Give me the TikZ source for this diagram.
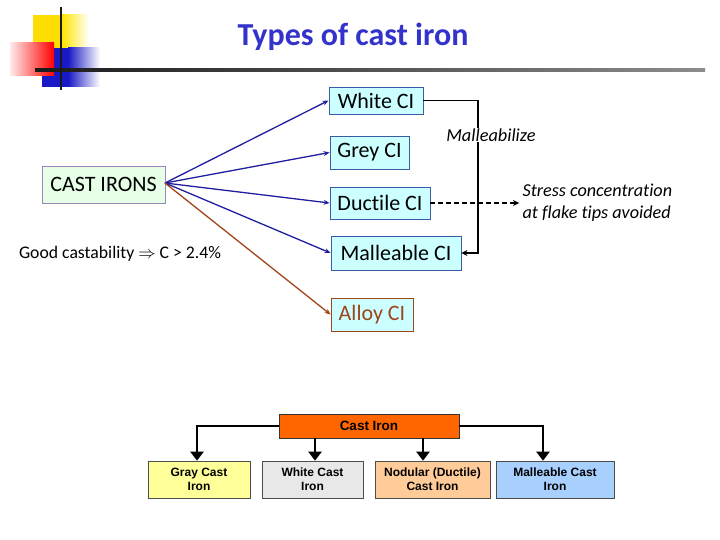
\documentclass[tikz,border=0pt]{standalone}
\usepackage{fontspec}
\setmainfont{Carlito}[Ligatures=NoCommon]
\newfontfamily\arialf{Liberation Sans}
\usetikzlibrary{arrows.meta}
\definecolor{titleblue}{HTML}{3333CC}
\definecolor{boxblue}{HTML}{3A5BA8}
\definecolor{cifill}{HTML}{CCFFFF}
\definecolor{arrblue}{HTML}{1F1FA0}
\definecolor{brownc}{HTML}{A0441A}
\definecolor{greenfill}{HTML}{E6FFE6}
\definecolor{purpleb}{HTML}{9A84B8}
\definecolor{orangec}{HTML}{FF6600}
\definecolor{grayfill}{HTML}{FFFF99}
\definecolor{whitefill}{HTML}{E8E8E8}
\definecolor{nodfill}{HTML}{FFCC99}
\definecolor{malfill}{HTML}{A8D0FF}
\tikzset{
  cibox/.style={draw=boxblue, fill=cifill, line width=0.9pt, inner sep=0pt, font=\fontsize{22}{24}\selectfont},
  blarrow/.style={draw=arrblue, line width=1.3pt, -{Stealth[length=6pt,width=5pt]}},
  botbox/.style={draw=black!70, line width=0.6pt, minimum height=37pt, inner sep=0pt, align=center, font=\arialf\bfseries\fontsize{12}{14}\selectfont},
  botarrow/.style={line width=2.6pt, -{Triangle[length=9pt,width=13pt]}},
}
\begin{document}
\begin{tikzpicture}[x=1pt,y=-1pt]
\useasboundingbox (0,0) rectangle (720,540);
% decoration
\fill[yellow!80!orange] (33,15) rectangle (62,48);
\shade[left color=yellow!80!orange, right color=white] (62,15) rectangle (89,48);
\fill[blue!75!black!90] (42,48) rectangle (68,87);
\shade[left color=blue!75!black!90, right color=white] (68,48) rectangle (100,87);
\shade[left color=red!8, right color=red] (10,43) rectangle (54,76);
\shade[left color=black!90, right color=black!45] (35,68.5) rectangle (705,71.5);
\draw[line width=2.6pt, black!90] (61,7) -- (61,90);
% title
\node[text=titleblue, font=\bfseries\fontsize{32}{34}\selectfont] (title) at (353,37) {Types of cast iron};
% CI nodes
\node[cibox, minimum width=94pt, minimum height=27pt] (white) at (376,100.5) {White CI};
\node[cibox, minimum width=79pt, minimum height=33pt] (grey) at (369.5,152.5) {Grey CI};
\node[cibox, minimum width=100pt, minimum height=32pt] (ductile) at (380,203) {Ductile CI};
\node[cibox, minimum width=130pt, minimum height=34pt] (malleable) at (396,253) {Malleable CI};
\node[cibox, draw=brownc, text=brownc, minimum width=82pt, minimum height=33pt] (alloy) at (372,314.5) {Alloy CI};
\node[draw=purpleb, fill=greenfill, line width=0.9pt, inner sep=0pt, minimum width=123pt, minimum height=37pt, font=\fontsize{22}{24}\selectfont] (castirons) at (103.5,184.5) {CAST IRONS};
\node[font=\fontsize{17.7}{20}\selectfont] (good) at (120,254) {Good castability $\Rightarrow$ C > 2.4\%};
\coordinate (src) at (165,183);
\draw[blarrow] (src) -- (white.west);
\draw[blarrow] (src) -- (grey.west);
\draw[blarrow] (src) -- (ductile.west);
\draw[blarrow] (src) -- (malleable.west);
\draw[draw=brownc, line width=1.3pt, -{Stealth[length=6pt,width=5pt]}] (src) -- (alloy.west);
% malleabilize
\draw[line width=1.4pt, -{Stealth[length=6pt,width=6pt]}] (white.east) -| (478,190) |- (malleable.east);
\node[font=\itshape\fontsize{18.3}{20}\selectfont, fill=white, inner sep=1pt] (mall) at (491,135) {Malleabilize};
\node[font=\itshape\fontsize{18.2}{22}\selectfont, align=left, anchor=west] (stress) at (519,203) {Stress concentration\\at flake tips avoided};
\draw[line width=1.2pt, dash pattern=on 5pt off 3pt, -{Stealth[length=6pt,width=6pt]}] (ductile.east) -- (stress.west);
% bottom chart
\node[draw=black!80, fill=orangec, line width=0.6pt, minimum width=180pt, minimum height=24pt, inner sep=0pt, font=\arialf\bfseries\fontsize{13.5}{15}\selectfont] (cast) at (369,426) {Cast Iron};
\node[botbox, fill=grayfill, minimum width=102pt] (gray) at (199,479.5) {Gray Cast\\Iron};
\node[botbox, fill=whitefill, minimum width=101pt] (whitec) at (312.5,479.5) {White Cast\\Iron};
\node[botbox, fill=nodfill, minimum width=115pt] (nod) at (432.5,479.5) {Nodular (Ductile)\\Cast Iron};
\node[botbox, fill=malfill, minimum width=118pt] (mal) at (555,479.5) {Malleable Cast\\Iron};
\draw[botarrow] (cast.west) -| ([xshift=-2pt]gray.north);
\draw[botarrow] (cast.east) -| ([xshift=-12pt]mal.north);
\draw[botarrow] ([xshift=2.5pt]whitec.north |- cast.south) -- ([xshift=2.5pt]whitec.north);
\draw[botarrow] ([xshift=-9.5pt]nod.north |- cast.south) -- ([xshift=-9.5pt]nod.north);
\end{tikzpicture}
\end{document}
